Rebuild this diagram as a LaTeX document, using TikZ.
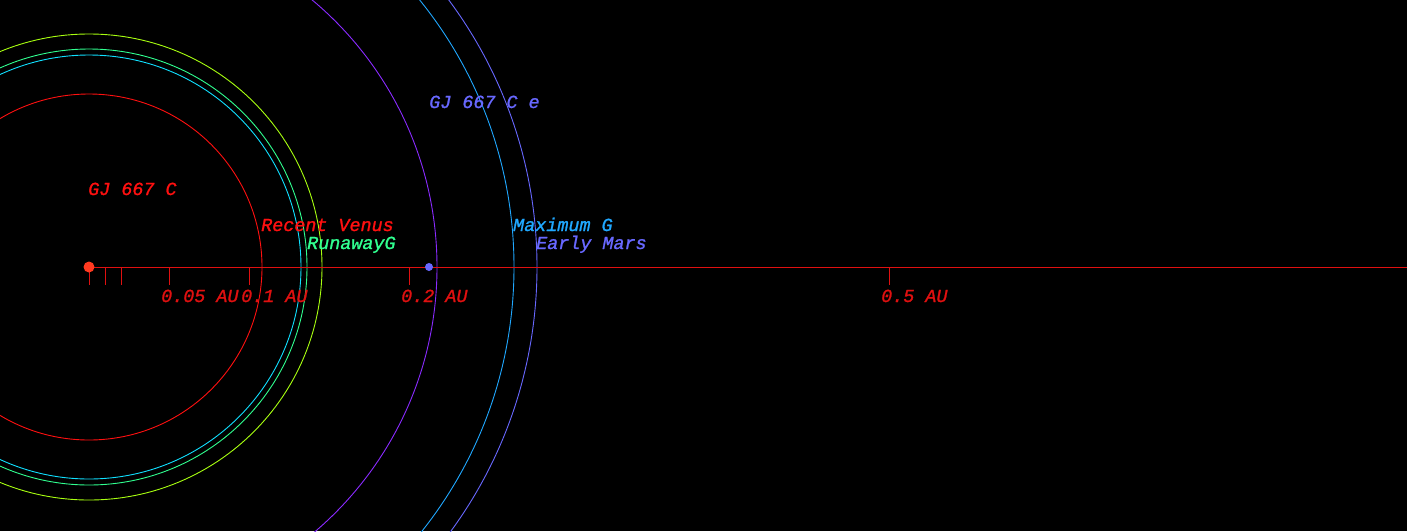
\documentclass[tikz,border=0pt]{standalone}
\usepackage{fontspec}
\setmonofont{Liberation Mono}[FakeBold=1.2]
\usetikzlibrary{positioning}
\definecolor{axisred}{HTML}{E01010}
\definecolor{starred}{HTML}{FF3A20}
\definecolor{venusred}{HTML}{FF1010}
\definecolor{hzcyan}{HTML}{10E0FF}
\definecolor{hzgreen}{HTML}{30FF90}
\definecolor{hzlime}{HTML}{A8FF10}
\definecolor{orbitpurple}{HTML}{8A2BFF}
\definecolor{maxblue}{HTML}{20A8FF}
\definecolor{marsblue}{HTML}{6868FF}

\begin{document}
\begin{tikzpicture}[x=1pt,y=-1pt,
  lbl/.style={font=\ttfamily\itshape\fontsize{18.4}{18}\selectfont,inner sep=0pt,anchor=base west},
  orbit/.style={line width=0.9pt}]
\useasboundingbox (0,0) rectangle (1407,531);
\fill[black] (0,0) rectangle (1407,531);
\clip (0,0) rectangle (1407,531);
\coordinate (c) at (89,267);
\coordinate (axend) at (1407,267);
% habitable zone limits and orbit
\draw[orbit,venusred] (c) circle[radius=173pt];
\draw[orbit,hzcyan] (c) circle[radius=212pt];
\draw[orbit,hzgreen] (c) circle[radius=218pt];
\draw[orbit,hzlime] (c) circle[radius=233pt];
\draw[orbit,orbitpurple] (c) circle[radius=348pt];
\draw[orbit,maxblue] (c) circle[radius=425pt];
\draw[orbit,marsblue] (c) circle[radius=448pt];
% axis with AU ticks
\draw[axisred,line width=0.9pt] (c) -- (axend);
\foreach \t/\lab in {0/,16/,32/,80/0.05 AU,160/0.1 AU,320/0.2 AU,800/0.5 AU}{
  \draw[axisred,line width=0.9pt] (89+\t,267) -- (89+\t,285);
  \node[lbl,text=axisred] (tick\t) at (81+\t,302) {\lab};
}
\node[circle,fill=starred,minimum size=11pt,inner sep=0pt] (star) at (c) {};
\node[circle,fill=marsblue,minimum size=8pt,inner sep=0pt] (planet) at (429,267) {};
\node[lbl,text=venusred] (starname) at (88,195) {GJ 667 C};
\node[lbl,text=marsblue] (planetname) at (429,108) {GJ 667 C e};
\node[lbl,text=venusred] (rv) at (261,231) {Recent Venus};
\node[lbl,text=hzgreen] (rg) at (307,249) {RunawayG};
\node[lbl,text=maxblue] (mg) at (513,231) {Maximum G};
\node[lbl,text=marsblue] (em) at (536,249) {Early Mars};
\end{tikzpicture}
\end{document}
